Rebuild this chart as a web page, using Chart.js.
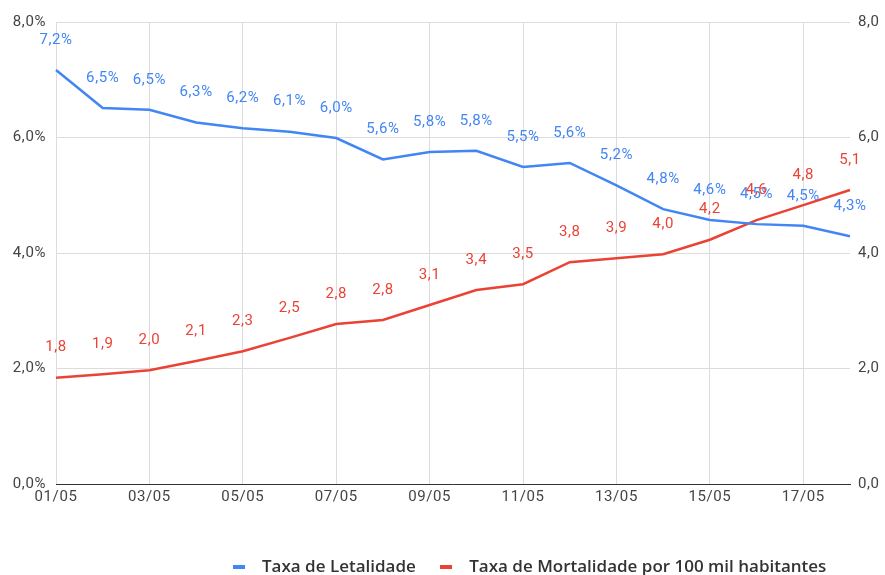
<!DOCTYPE html>
<html>
<head>
<meta charset="utf-8">
<script src="https://cdn.jsdelivr.net/npm/chart.js@4"></script>
<style>
  body { margin: 0; background: #fff; }
  #wrap { position: relative; width: 885px; height: 575px; overflow: hidden; }
  #legend { position: absolute; left: 233px; top: 554px; font: 600 17px "Open Sans", sans-serif; color: #333; white-space: nowrap; }
  #legend span.sw { display: inline-block; width: 12px; height: 4px; vertical-align: middle; margin-right: 17px; }
  #legend span.item { margin-right: 20px; }
</style>
</head>
<body>
<div id="wrap">
  <canvas id="chart" width="885" height="575"></canvas>
  <div id="legend">
    <span class="item"><span class="sw" style="background:#4285F4"></span>Taxa de Letalidade</span>
    <span class="item"><span class="sw" style="background:#EA4335"></span>Taxa de Mortalidade por 100 mil habitantes</span>
  </div>
</div>
<script>
const days = [
  "01/05", "02/05", "03/05", "04/05", "05/05", "06/05", "07/05", "08/05", "09/05",
  "10/05", "11/05", "12/05", "13/05", "14/05", "15/05", "16/05", "17/05", "18/05",
];
const letalidade = [
  7.17, 6.51, 6.48, 6.26, 6.16, 6.1, 5.99, 5.62, 5.75,
  5.77, 5.49, 5.56, 5.17, 4.76, 4.57, 4.5, 4.47, 4.29,
];
const mortalidade = [
  1.84, 1.9, 1.97, 2.13, 2.3, 2.53, 2.77, 2.84, 3.1,
  3.36, 3.46, 3.84, 3.91, 3.98, 4.23, 4.57, 4.83, 5.09,
];
const yTicks = [0, 2, 4, 6, 8];

const fmt = (v) => v.toFixed(1).replace(".", ",");

// text in the reference is a bit wider than plain Roboto
const spacing = {
  id: "spacing",
  beforeLayout(chart) { chart.ctx.letterSpacing = "0.6px"; },
  beforeDraw(chart) { chart.ctx.letterSpacing = "0.6px"; },
};

// value labels above every point
const pointLabels = {
  id: "pointLabels",
  afterDatasetsDraw(chart) {
    const { ctx } = chart;
    ctx.save();
    ctx.font = "15px Roboto, sans-serif";
    ctx.textAlign = "center";
    ctx.textBaseline = "middle";
    chart.data.datasets.forEach((ds, i) => {
      const meta = chart.getDatasetMeta(i);
      ctx.fillStyle = ds.borderColor;
      meta.data.forEach((pt, j) => {
        ctx.fillText(fmt(ds.data[j]) + (ds.suffix || ""), pt.x, pt.y - 30);
      });
    });
    ctx.restore();
  },
};

new Chart(document.getElementById("chart"), {
  type: "line",
  data: {
    labels: days,
    datasets: [
      {
        label: "Taxa de Letalidade",
        data: letalidade,
        borderColor: "#4285F4",
        borderWidth: 2.5,
        pointRadius: 0,
        tension: 0,
        yAxisID: "y",
        suffix: "%",
      },
      {
        label: "Taxa de Mortalidade por 100 mil habitantes",
        data: mortalidade,
        borderColor: "#EA4335",
        borderWidth: 2.5,
        pointRadius: 0,
        tension: 0,
        yAxisID: "y1",
      },
    ],
  },
  options: {
    responsive: false,
    animation: false,
    layout: { padding: { top: 22, bottom: 61, left: 0, right: 0 } },
    plugins: { legend: { display: false }, tooltip: { enabled: false } },
    scales: {
      x: {
        grid: { color: "#dcdcdc", drawTicks: false },
        border: { color: "#333", width: 1 },
        ticks: {
          autoSkip: false,
          maxRotation: 0,
          padding: 4,
          color: "#444",
          font: { family: "Roboto", size: 15 },
          callback: (v, i) => (i % 2 === 0 ? days[i] : null),
        },
        afterFit: (s) => { s.height = 30; },
      },
      y: {
        position: "left",
        min: 0,
        max: 8,
        afterBuildTicks: (s) => { s.ticks = yTicks.map((v) => ({ value: v })); },
        grid: { color: "#dcdcdc", drawTicks: false },
        border: { display: false },
        ticks: {
          padding: 10,
          color: "#444",
          font: { family: "Roboto", size: 15 },
          callback: (v) => fmt(v) + "%",
        },
        afterFit: (s) => { s.width = 56; },
      },
      y1: {
        position: "right",
        min: 0,
        max: 8,
        afterBuildTicks: (s) => { s.ticks = yTicks.map((v) => ({ value: v })); },
        grid: { display: false, drawTicks: false },
        border: { display: false },
        ticks: {
          padding: 8,
          color: "#444",
          font: { family: "Roboto", size: 15 },
          callback: (v) => fmt(v),
        },
        afterFit: (s) => { s.width = 35; },
      },
    },
  },
  plugins: [spacing, pointLabels],
});
</script>
</body>
</html>
